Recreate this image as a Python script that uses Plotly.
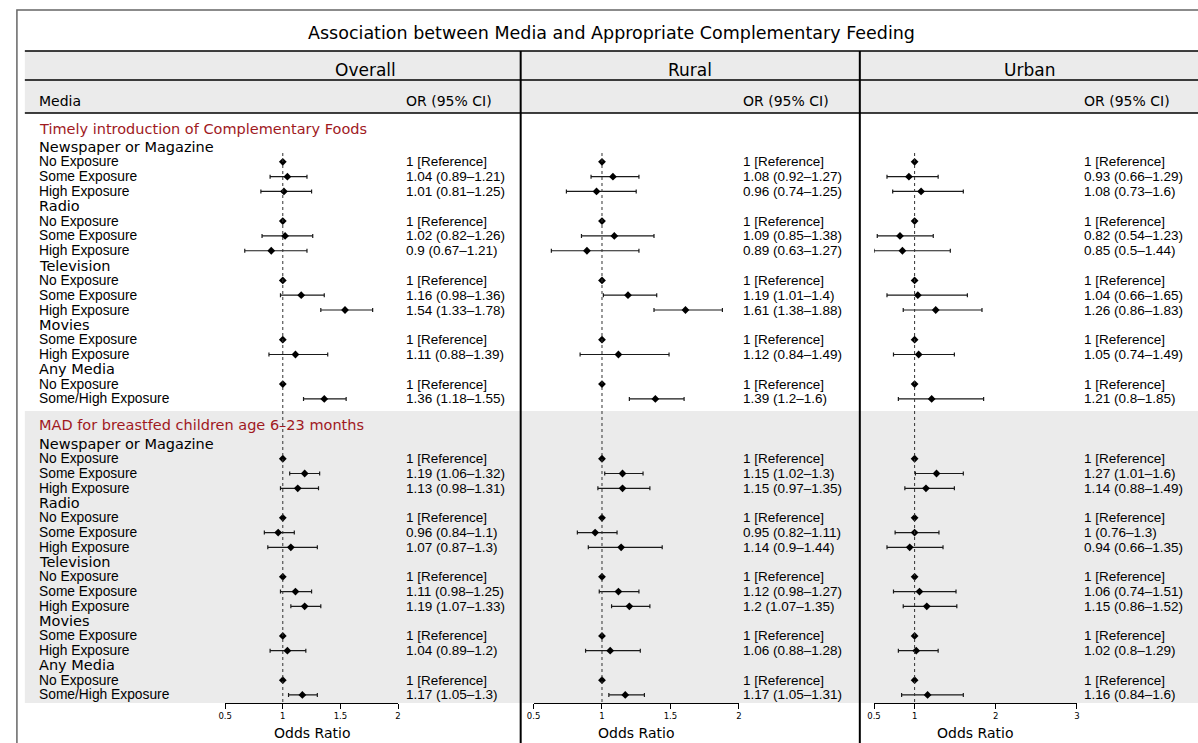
import plotly.graph_objects as go

W, H = 1198, 743

# ---------------- data ----------------
title = "Association between Media and Appropriate Complementary Feeding"
panels = ["Overall", "Rural", "Urban"]
outcomes = ["Timely introduction of Complementary Foods",
            "MAD for breastfed children age 6\u201323 months"]
groups = ["Newspaper or Magazine", "Radio", "Television", "Movies", "Any Media"]
group_levels = [
    ["No Exposure", "Some Exposure", "High Exposure"],
    ["No Exposure", "Some Exposure", "High Exposure"],
    ["No Exposure", "Some Exposure", "High Exposure"],
    ["Some Exposure", "High Exposure"],
    ["No Exposure", "Some/High Exposure"],
]

# None in lower/upper marks the reference category
overall_timely_or = [1, 1.04, 1.01, 1, 1.02, 0.9, 1, 1.16, 1.54, 1, 1.11, 1, 1.36]
overall_timely_lo = [None, 0.89, 0.81, None, 0.82, 0.67, None, 0.98, 1.33, None, 0.88, None, 1.18]
overall_timely_hi = [None, 1.21, 1.25, None, 1.26, 1.21, None, 1.36, 1.78, None, 1.39, None, 1.55]
overall_mad_or = [1, 1.19, 1.13, 1, 0.96, 1.07, 1, 1.11, 1.19, 1, 1.04, 1, 1.17]
overall_mad_lo = [None, 1.06, 0.98, None, 0.84, 0.87, None, 0.98, 1.07, None, 0.89, None, 1.05]
overall_mad_hi = [None, 1.32, 1.31, None, 1.1, 1.3, None, 1.25, 1.33, None, 1.2, None, 1.3]

rural_timely_or = [1, 1.08, 0.96, 1, 1.09, 0.89, 1, 1.19, 1.61, 1, 1.12, 1, 1.39]
rural_timely_lo = [None, 0.92, 0.74, None, 0.85, 0.63, None, 1.01, 1.38, None, 0.84, None, 1.2]
rural_timely_hi = [None, 1.27, 1.25, None, 1.38, 1.27, None, 1.4, 1.88, None, 1.49, None, 1.6]
rural_mad_or = [1, 1.15, 1.15, 1, 0.95, 1.14, 1, 1.12, 1.2, 1, 1.06, 1, 1.17]
rural_mad_lo = [None, 1.02, 0.97, None, 0.82, 0.9, None, 0.98, 1.07, None, 0.88, None, 1.05]
rural_mad_hi = [None, 1.3, 1.35, None, 1.11, 1.44, None, 1.27, 1.35, None, 1.28, None, 1.31]

urban_timely_or = [1, 0.93, 1.08, 1, 0.82, 0.85, 1, 1.04, 1.26, 1, 1.05, 1, 1.21]
urban_timely_lo = [None, 0.66, 0.73, None, 0.54, 0.5, None, 0.66, 0.86, None, 0.74, None, 0.8]
urban_timely_hi = [None, 1.29, 1.6, None, 1.23, 1.44, None, 1.65, 1.83, None, 1.49, None, 1.85]
urban_mad_or = [1, 1.27, 1.14, 1, 1, 0.94, 1, 1.06, 1.15, 1, 1.02, 1, 1.16]
urban_mad_lo = [None, 1.01, 0.88, None, 0.76, 0.66, None, 0.74, 0.86, None, 0.8, None, 0.84]
urban_mad_hi = [None, 1.6, 1.49, None, 1.3, 1.35, None, 1.51, 1.52, None, 1.29, None, 1.6]

overall_ticks = [0.5, 1, 1.5, 2]
rural_ticks = [0.5, 1, 1.5, 2]
urban_ticks = [0.5, 1, 2, 3]
tick_sets = [overall_ticks, rural_ticks, urban_ticks]

panel_data = [
    [(overall_timely_or, overall_timely_lo, overall_timely_hi),
     (overall_mad_or, overall_mad_lo, overall_mad_hi)],
    [(rural_timely_or, rural_timely_lo, rural_timely_hi),
     (rural_mad_or, rural_mad_lo, rural_mad_hi)],
    [(urban_timely_or, urban_timely_lo, urban_timely_hi),
     (urban_mad_or, urban_mad_lo, urban_mad_hi)],
]

# ---------------- layout geometry (pixels) ----------------
def X(x):
    return x / W

def Y(y):
    return 1 - y / H

AXIS_Y = 703
axis_px = [(220, 394.3), (531, 738), (874.3, 1079)]
text_x = [402, 742, 1086]
header_cx = [362, 689, 1031]
sep_x = [518, 860]
sec_header_y = [129, 425]
sec_first_y = [147, 444]
sec_step = [14.82, 14.76]

ROW_FONT = dict(family="Liberation Sans, Arial, sans-serif", size=13.8, color="black")
VAL_FONT = dict(family="Liberation Sans, Arial, sans-serif", size=13.5, color="black")
HEAD_FONT = dict(family="DejaVu Sans, sans-serif", size=14.5, color="black")
COL_FONT = dict(family="DejaVu Sans, sans-serif", size=14, color="black")
TITLE_FONT = dict(family="DejaVu Sans, sans-serif", size=17.5, color="black")
PANEL_FONT = dict(family="DejaVu Sans, sans-serif", size=17, color="black")
RED = "#A0191E"
GREY = "#EBEBEB"

def fmt(v):
    return f"{v:g}"

fig = go.Figure()
annotations = []
shapes = []

def ann(x, y, text, font, xanchor="left"):
    annotations.append(dict(x=X(x), y=Y(y), xref="paper", yref="paper", text=text,
                            showarrow=False, xanchor=xanchor, yanchor="middle",
                            borderpad=0, borderwidth=0, font=font))

# backgrounds
shapes.append(dict(type="rect", xref="paper", yref="paper", x0=X(18), x1=X(1205),
                   y0=Y(51), y1=Y(113), fillcolor=GREY, line=dict(width=0), layer="below"))
shapes.append(dict(type="rect", xref="paper", yref="paper", x0=X(18), x1=X(1205),
                   y0=Y(411), y1=Y(AXIS_Y), fillcolor=GREY, line=dict(width=0), layer="below"))
# outer frame
shapes.append(dict(type="rect", xref="paper", yref="paper", x0=X(10), x1=X(1210),
                   y0=Y(10), y1=Y(760), line=dict(color="#666666", width=1.5), layer="below"))
# horizontal rules
for yy in [51, 80, 113]:
    shapes.append(dict(type="line", xref="paper", yref="paper", x0=X(18), x1=X(1205),
                       y0=Y(yy), y1=Y(yy), line=dict(color="black", width=1.5)))
# vertical separators
for sx in sep_x:
    shapes.append(dict(type="line", xref="paper", yref="paper", x0=X(sx), x1=X(sx),
                       y0=Y(51), y1=Y(H + 5), line=dict(color="black", width=2)))

# title and headers
ann(610, 33, title, TITLE_FONT, "center")
for p, name in enumerate(panels):
    ann(header_cx[p], 70, name, PANEL_FONT, "center")
    ann(text_x[p], 101, "OR (95% CI)", COL_FONT)
ann(32, 101, "Media", COL_FONT)

# rows
row_positions = []  # per section: list of y for each item
for s, outcome in enumerate(outcomes):
    ann(32, sec_header_y[s], outcome, dict(HEAD_FONT, color=RED))
    r = 0
    ys = []
    for g, gname in enumerate(groups):
        ann(32, sec_first_y[s] + r * sec_step[s], gname, HEAD_FONT)
        r += 1
        for lev in group_levels[g]:
            y = sec_first_y[s] + r * sec_step[s]
            ann(32, y, lev, ROW_FONT)
            ys.append(y)
            r += 1
    row_positions.append(ys)

layout_axes = {}
for p in range(3):
    xa = "x" if p == 0 else f"x{p+1}"
    xname = "xaxis" if p == 0 else f"xaxis{p+1}"
    ticks = tick_sets[p]
    layout_axes[xname] = dict(
        domain=[X(axis_px[p][0]), X(axis_px[p][1])],
        range=[ticks[0], ticks[-1]], anchor="y",
        showline=True, linecolor="black", linewidth=1,
        ticks="outside", ticklen=5, tickwidth=1, tickcolor="black",
        tickvals=ticks, ticktext=[fmt(t) for t in ticks],
        tickfont=dict(family="DejaVu Sans, sans-serif", size=8.5, color="black"),
        showgrid=False, zeroline=False, fixedrange=True,
    )
    ann((axis_px[p][0] + axis_px[p][1]) / 2, 733, "Odds Ratio", COL_FONT, "center")
    # reference line at OR = 1
    shapes.append(dict(type="line", xref=xa, yref="y", x0=1, x1=1, y0=153, y1=AXIS_Y,
                       line=dict(color="#333333", width=1, dash="dot")))
    for s in range(2):
        ors, los, his = panel_data[p][s]
        ys = row_positions[s]
        ref_x, ref_y, est_x, est_y, ep, em = [], [], [], [], [], []
        for i, (o, lo, hi) in enumerate(zip(ors, los, his)):
            if lo is None:
                ref_x.append(o); ref_y.append(ys[i])
                ann(text_x[p], ys[i], f"{fmt(o)} [Reference]", VAL_FONT)
            else:
                est_x.append(o); est_y.append(ys[i])
                ep.append(hi - o); em.append(o - lo)
                ann(text_x[p], ys[i], f"{fmt(o)} ({fmt(lo)}\u2013{fmt(hi)})", VAL_FONT)
        fig.add_trace(go.Scatter(
            x=est_x, y=est_y, xaxis=xa, yaxis="y", mode="markers",
            marker=dict(symbol="diamond", size=6, color="black"),
            error_x=dict(type="data", symmetric=False, array=ep, arrayminus=em,
                         color="#1a1a1a", thickness=1.2, width=2),
            cliponaxis=False, showlegend=False, hoverinfo="skip"))
        fig.add_trace(go.Scatter(
            x=ref_x, y=ref_y, xaxis=xa, yaxis="y", mode="markers",
            marker=dict(symbol="diamond", size=6, color="black"),
            cliponaxis=False, showlegend=False, hoverinfo="skip"))

fig.update_layout(
    width=W, height=H, margin=dict(l=0, r=0, t=0, b=0),
    paper_bgcolor="white", plot_bgcolor="rgba(0,0,0,0)",
    yaxis=dict(domain=[1 - AXIS_Y / H, 1], range=[AXIS_Y, 0], visible=False,
               fixedrange=True),
    annotations=annotations, shapes=shapes, showlegend=False,
    **layout_axes,
)

fig.write_html(
    "out.html",
    config={"displayModeBar": False},
    post_script="document.body.style.margin='0';document.body.style.overflow='hidden';",
)
